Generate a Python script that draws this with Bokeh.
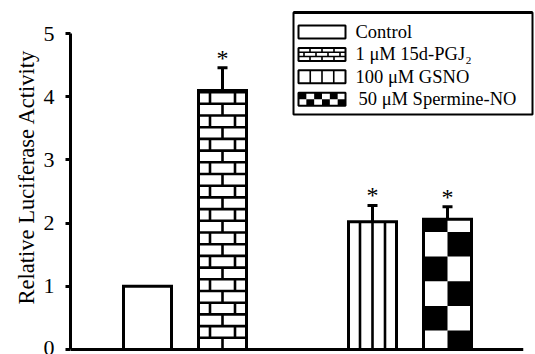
from bokeh.plotting import figure
from bokeh.models import Range1d, FixedTicker
from bokeh.embed import file_html
from bokeh.resources import INLINE
from bokeh.core.properties import value

# ---------------- data ----------------
treatments = ["Control", "1 μM 15d-PGJ₂", "100 μM GSNO", "50 μM Spermine-NO"]
positions = [1, 2, 4, 5]
means = [1.00, 4.10, 2.02, 2.06]
errors = [0.00, 0.36, 0.26, 0.20]
significant = [False, True, True, True]
patterns = ["blank", "brick", "vline", "checker"]
y_ticks = [0, 1, 2, 3, 4, 5]
y_label = "Relative Luciferase Activity"

# ---------------- layout ----------------
W, H = 535, 354
BORDER_LEFT, BORDER_BOTTOM = 70, 1
FRAME_W, FRAME_H = W - BORDER_LEFT, H - BORDER_BOTTOM
PX_X, PX_Y = 75.0, 63.2          # pixels per data unit
X_START = 1 - 77 / PX_X
X_END = X_START + FRAME_W / PX_X
Y_START = -4 / PX_Y
Y_END = Y_START + FRAME_H / PX_Y
FRAME_LEFT_PAGE, FRAME_TOP_PAGE = BORDER_LEFT, 0
BAR_W = 0.64
FONT = "Liberation Serif"


def dx(px):
    return px / PX_X


def dy(px):
    return px / PX_Y


def to_x(page):
    return X_START + (page - FRAME_LEFT_PAGE) / PX_X


def to_y(page):
    return Y_END - (page - FRAME_TOP_PAGE) / PX_Y


def make_pattern(kind, x0, x1, y0, y1, cell_w, cell_h, y_offset=0.0, ncols=2):
    """Return (segments, black_quads) that fill the rectangle with a pattern."""
    segs = ([], [], [], [])
    quads = ([], [], [], [])
    xc = (x0 + x1) / 2
    if kind == "brick":
        k = 0
        yb = y0
        while yb < y1 - 1e-9:
            yt = min(yb + cell_h, y1)
            if yt < y1 - 1e-9:
                for a, b in zip(segs, (x0, yt, x1, yt)):
                    a.append(b)
            shift = 0.0 if k % 2 == 0 else 0.5
            for j in range(-10, 10):
                xj = xc + (j + shift) * cell_w
                if x0 + 1e-6 < xj < x1 - 1e-6:
                    for a, b in zip(segs, (xj, yb, xj, yt)):
                        a.append(b)
            yb = yt
            k += 1
    elif kind == "vline":
        for j in range(-10, 11):
            xj = xc + j * cell_w
            if x0 + cell_w * 0.3 < xj < x1 - cell_w * 0.3:
                for a, b in zip(segs, (xj, y0, xj, y1)):
                    a.append(b)
    elif kind == "checker":
        cw = (x1 - x0) / ncols
        r = 0
        yb = y0 + y_offset
        while yb < y1 - 1e-9:
            yt = yb + cell_h
            lo, hi = max(yb, y0), min(yt, y1)
            if hi > lo:
                for c in range(ncols):
                    if (r + c) % 2 == 1:
                        for a, b in zip(quads, (x0 + c * cw, x0 + (c + 1) * cw, hi, lo)):
                            a.append(b)
            yb = yt
            r += 1
    return segs, quads


p = figure(width=W, height=H,
           x_range=Range1d(X_START, X_END), y_range=Range1d(Y_START, Y_END),
           output_backend="svg", toolbar_location=None,
           x_axis_location=None, y_axis_location="left",
           min_border_left=BORDER_LEFT, min_border_right=0,
           min_border_top=0, min_border_bottom=BORDER_BOTTOM)
p.grid.visible = False
p.outline_line_color = None
p.background_fill_color = "white"
p.border_fill_color = "white"

ax = p.yaxis[0]
ax.ticker = FixedTicker(ticks=y_ticks)
ax.bounds = (y_ticks[0], y_ticks[-1])
ax.axis_line_width = 3
ax.axis_line_color = "black"
ax.major_tick_line_width = 3
ax.major_tick_line_color = "black"
ax.major_tick_out = 5
ax.major_tick_in = 0
ax.minor_tick_out = 0
ax.minor_tick_in = 0
ax.major_label_text_font = FONT
ax.major_label_text_font_size = "22px"
ax.major_label_text_color = "black"
ax.major_label_standoff = 11
ax.axis_label = y_label
ax.axis_label_text_font = FONT
ax.axis_label_text_font_size = "22.5px"
ax.axis_label_text_font_style = "normal"
ax.axis_label_text_color = "black"
ax.axis_label_standoff = 2

# x axis baseline
p.segment(x0=[X_START], y0=[0], x1=[6.01], y1=[0], line_color="black", line_width=3)

# bars: white fill
p.vbar(x=positions, top=means, bottom=0, width=BAR_W, fill_color="white", line_color=None)

# patterns inside bars
pattern_specs = {
    "brick": dict(cell_w=dx(25), cell_h=dy(11.7)),
    "vline": dict(cell_w=dx(12.5), cell_h=0),
    "checker": dict(cell_w=0, cell_h=0.39, y_offset=-0.09, ncols=2),
    "blank": dict(cell_w=0, cell_h=0),
}
for xpos, m, kind in zip(positions, means, patterns):
    if kind == "blank":
        continue
    segs, quads = make_pattern(kind, xpos - BAR_W / 2, xpos + BAR_W / 2, 0, m, **pattern_specs[kind])
    if segs[0]:
        p.segment(x0=segs[0], y0=segs[1], x1=segs[2], y1=segs[3], line_color="black", line_width=2.6)
    if quads[0]:
        p.quad(left=quads[0], right=quads[1], top=quads[2], bottom=quads[3],
               fill_color="black", line_color=None)

# bar outlines
p.vbar(x=positions, top=means, bottom=0, width=BAR_W, fill_color=None,
       line_color="black", line_width=3, line_join="miter")

# error bars
ex, elo, ehi = [], [], []
for xpos, m, e in zip(positions, means, errors):
    if e > 0:
        ex.append(xpos)
        elo.append(m)
        ehi.append(m + e)
p.segment(x0=ex, y0=elo, x1=ex, y1=ehi, line_color="black", line_width=3)
p.segment(x0=[x - dx(5) for x in ex], y0=ehi, x1=[x + dx(5) for x in ex], y1=ehi,
          line_color="black", line_width=3)

# significance stars
sx = [xpos for xpos, s in zip(positions, significant) if s]
sy = [m + e + dy(10) for m, e, s in zip(means, errors, significant) if s]
p.text(x=sx, y=sy, text=["*"] * len(sx), text_align="center", text_baseline="alphabetic",
       text_font=value(FONT), text_font_size="24px", text_color="black")

# ---------------- legend (drawn with the same pattern generator) ----------------
LEG_L, LEG_R, LEG_T, LEG_B = 293, 532, 12, 114
SW_L, SW_R, SW_H = 298, 345, 13
ROW0, ROW_STEP = 31.5, 22.4
TEXT_X = 355

p.quad(left=[to_x(LEG_L)], right=[to_x(LEG_R)], top=[to_y(LEG_T)], bottom=[to_y(LEG_B)],
       fill_color="white", line_color="black", line_width=2)
p.segment(x0=[to_x(LEG_L)], y0=[to_y(LEG_T)], x1=[to_x(LEG_R)], y1=[to_y(LEG_T)],
          line_color="black", line_width=3)

legend_specs = {
    "brick": dict(cell_w=dx(12), cell_h=dy(SW_H / 3)),
    "vline": dict(cell_w=dx((SW_R - SW_L) / 4), cell_h=0),
    "checker": dict(cell_w=0, cell_h=dy(SW_H / 2), ncols=6),
    "blank": dict(cell_w=0, cell_h=0),
}
tx, ty = [], []
for i, (name, kind) in enumerate(zip(treatments, patterns)):
    cy = ROW0 + i * ROW_STEP
    x0, x1 = to_x(SW_L), to_x(SW_R)
    yt, yb = to_y(cy - SW_H / 2), to_y(cy + SW_H / 2)
    p.quad(left=[x0], right=[x1], top=[yt], bottom=[yb], fill_color="white", line_color=None)
    if kind != "blank":
        segs, quads = make_pattern(kind, x0, x1, yb, yt, **legend_specs[kind])
        if segs[0]:
            p.segment(x0=segs[0], y0=segs[1], x1=segs[2], y1=segs[3], line_color="black", line_width=1.6)
        if quads[0]:
            p.quad(left=quads[0], right=quads[1], top=quads[2], bottom=quads[3],
                   fill_color="black", line_color=None)
    p.quad(left=[x0], right=[x1], top=[yt], bottom=[yb], fill_color=None,
           line_color="black", line_width=2)
    tx.append(to_x(TEXT_X + (3 if i == 3 else 0)))
    ty.append(to_y(cy))

p.text(x=tx, y=ty, text=treatments, text_align="left", text_baseline="middle",
       text_font=value(FONT), text_font_size="18.5px", text_color="black")

open("out.html", "w").write(file_html(p, INLINE))
